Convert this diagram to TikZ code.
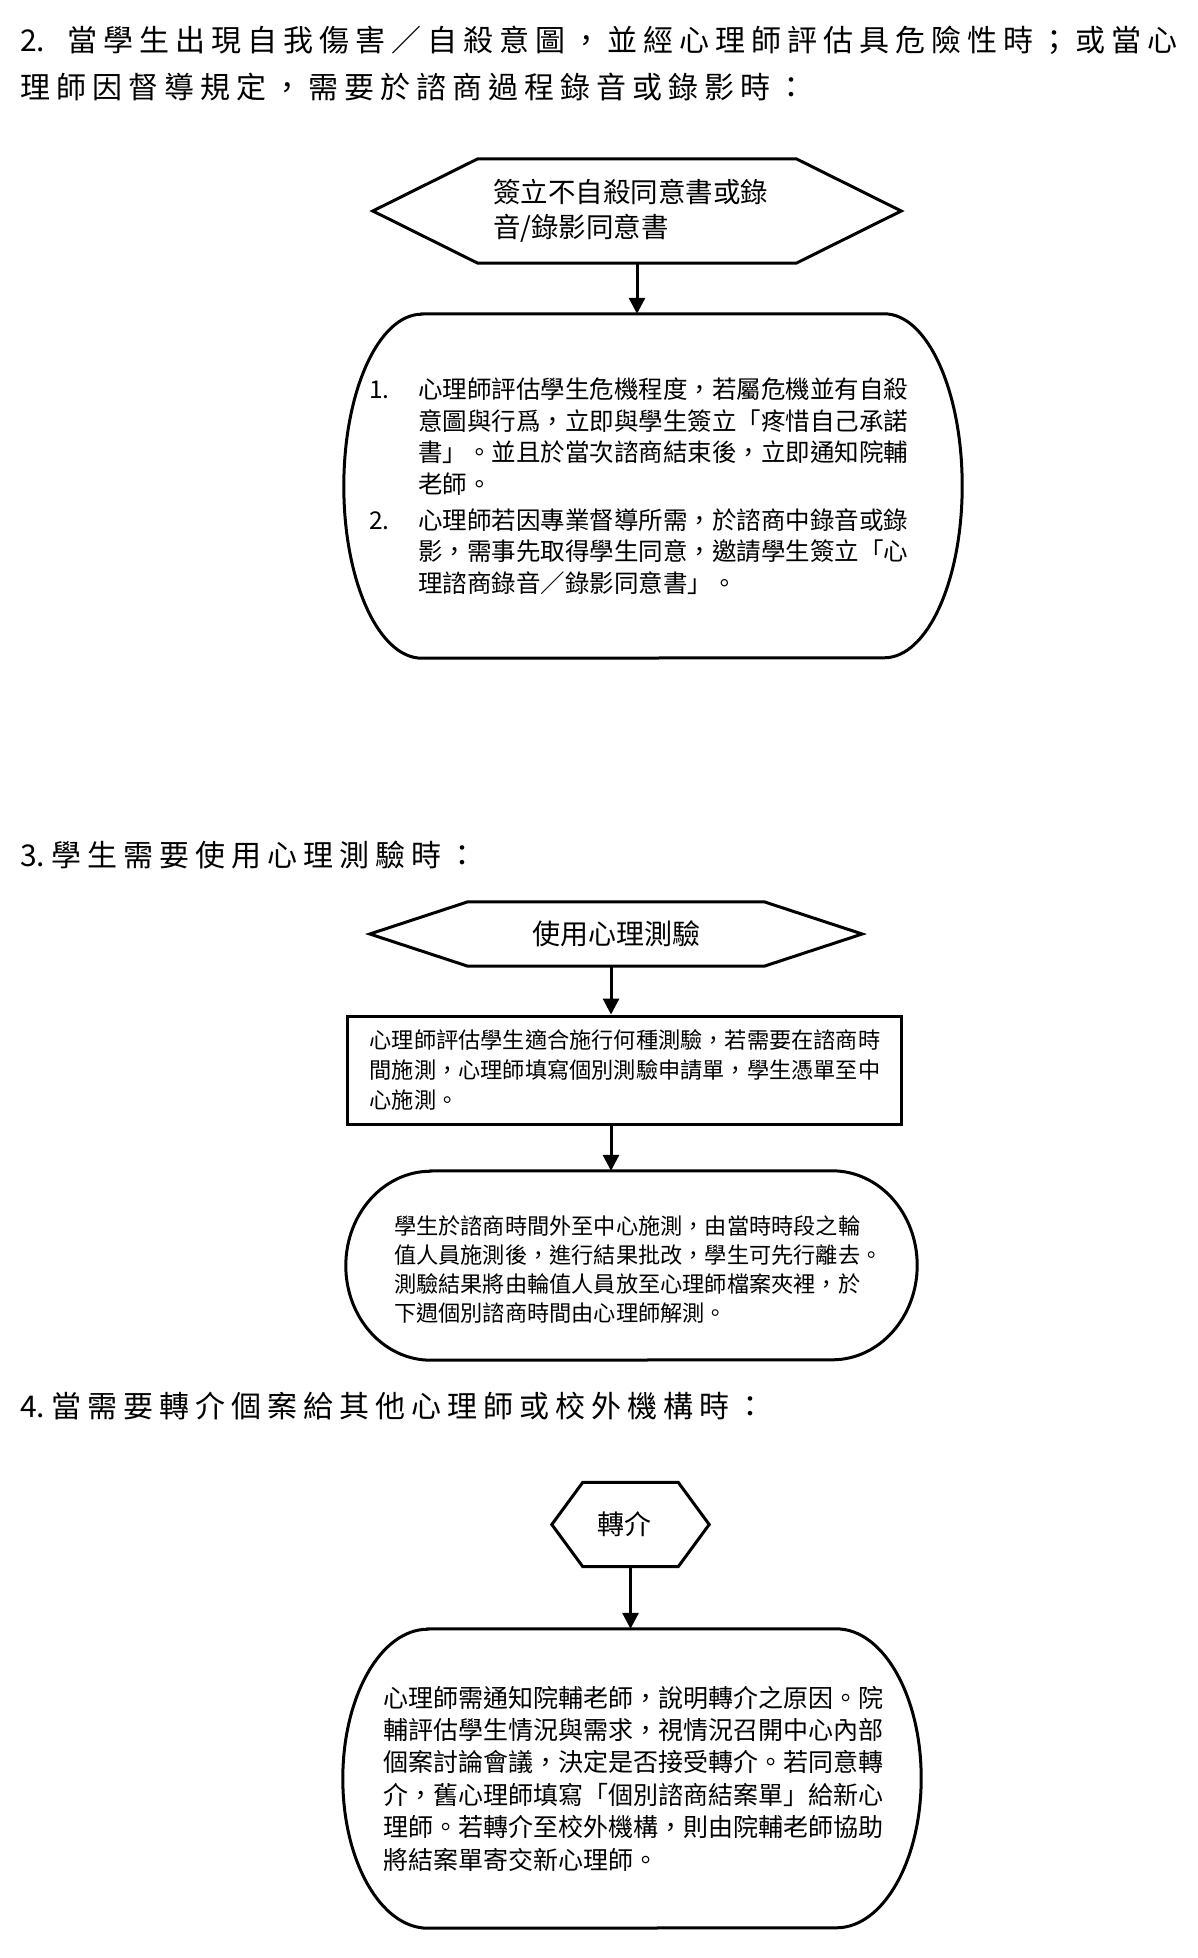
\documentclass[tikz,border=0pt]{standalone}
\usepackage{fontspec}
\setmainfont{Noto Sans CJK TC}
\newfontfamily\headfont[LetterSpace=20]{Noto Sans CJK TC}
\newfontfamily\digfont{Noto Sans CJK TC}
\usetikzlibrary{arrows.meta,calc}
\newcommand\mysz[2]{\fontsize{#1}{#2}\selectfont}
\newcommand\drawhex[2]{%
  \draw[lw] (#1.west) -- ([xshift=#2pt]#1.north west) -- ([xshift=-#2pt]#1.north east)
    -- (#1.east) -- ([xshift=-#2pt]#1.south east) -- ([xshift=#2pt]#1.south west) -- cycle;}
\newcommand\drawterm[3]{%
  \draw[lw] ([xshift=#2pt]#1.north west) -- ([xshift=-#2pt]#1.north east)
    arc[start angle=90,end angle=-90,x radius=#2pt,y radius=#3pt]
    -- ([xshift=#2pt]#1.south west)
    arc[start angle=270,end angle=90,x radius=#2pt,y radius=#3pt] -- cycle;}
\tikzset{
  lw/.style={line width=3pt, line join=miter},
  arr/.style={line width=3pt, -{Triangle[width=16pt,length=16pt]}},
  shp/.style={draw=none, inner sep=0pt},
  txt/.style={inner sep=0pt, align=left, anchor=west},
  head/.style={inner sep=0pt, anchor=west, font=\headfont\mysz{30}{36}},
}
\begin{document}
\begin{tikzpicture}[x=1pt,y=-1pt]
\useasboundingbox (0,0) rectangle (1197,1958);
\fill[white] (0,0) rectangle (1197,1958);

% ---------- Section 2 ----------
\node[head] (h2a) at (20,40) {{\digfont 2.}\hspace{22pt}當學生出現自我傷害／自殺意圖，並經心理師評估具危險性時；或當心};
\node[head] (h2b) at (20,87) {理師因督導規定，需要於諮商過程錄音或錄影時：};

\node[shp, minimum width=528, minimum height=104] (x1) at (637,211) {};
\drawhex{x1}{105}
\node[txt, font=\mysz{27.5}{35}] (x1t) at ([xshift=120pt]x1.west) {簽立不自殺同意書或錄\\音/錄影同意書};

\node[shp, minimum width=618, minimum height=344] (b1) at (653,486) {};
\drawterm{b1}{78}{172}
\node[txt, font=\mysz{24.5}{31.5}] (b1t) at ([xshift=25pt]b1.west) {%
\makebox[49pt][l]{1.}心理師評估學生危機程度，若屬危機並有自殺\\
\hspace*{49pt}意圖與行爲，立即與學生簽立「疼惜自己承諾\\
\hspace*{49pt}書」。並且於當次諮商結束後，立即通知院輔\\
\hspace*{49pt}老師。\\[4.5pt]
\makebox[49pt][l]{2.}心理師若因專業督導所需，於諮商中錄音或錄\\
\hspace*{49pt}影，需事先取得學生同意，邀請學生簽立「心\\
\hspace*{49pt}理諮商錄音／錄影同意書」。};

\draw[arr] (x1.south) -- (x1.south |- b1.north);

% ---------- Section 3 ----------
\node[head] (h3) at (20,855) {{\digfont 3.}\hspace{6pt}學生需要使用心理測驗時：};

\node[shp, minimum width=492, minimum height=64, font=\mysz{28}{34}] (x2) at (616,934) {使用心理測驗};
\drawhex{x2}{98}

\node[shp, draw, lw, minimum width=554, minimum height=108] (r1) at (624,1070) {};
\node[txt, font=\mysz{22.2}{30}] (r1t) at ([xshift=24pt]r1.west) {%
心理師評估學生適合施行何種測驗，若需要在諮商時\\
間施測，心理師填寫個別測驗申請單，學生憑單至中\\
心施測。};

\node[shp, minimum width=571, minimum height=189] (b3) at (631.5,1265.5) {};
\drawterm{b3}{85}{94.5}
\node[txt, font=\mysz{22.2}{28.7}] (b3t) at ([xshift=48pt,yshift=-4pt]b3.west) {%
學生於諮商時間外至中心施測，由當時時段之輪\\
值人員施測後，進行結果批改，學生可先行離去。\\
測驗結果將由輪值人員放至心理師檔案夾裡，於\\
下週個別諮商時間由心理師解測。};

\draw[arr] ([xshift=-5pt]x2.south) -- ([xshift=-5pt]x2.south |- r1.north);
\draw[arr] ([xshift=-5pt]r1.south -| x2.south) -- ([xshift=-5pt]x2.south |- b3.north);

% ---------- Section 4 ----------
\node[head] (h4) at (20,1406) {{\digfont 4.}\hspace{6pt}當需要轉介個案給其他心理師或校外機構時：};

\node[shp, minimum width=157, minimum height=84] (x3) at (630.5,1524.5) {};
\drawhex{x3}{31}
\node[txt, font=\mysz{27}{32}] (x3t) at ([xshift=45pt]x3.west) {轉介};

\node[shp, minimum width=578, minimum height=299] (b4) at (632,1778.5) {};
\drawterm{b4}{85}{149.5}
\node[txt, font=\mysz{25}{32.4}] (b4t) at ([xshift=40pt]b4.west) {%
心理師需通知院輔老師，說明轉介之原因。院\\
輔評估學生情況與需求，視情況召開中心內部\\
個案討論會議，決定是否接受轉介。若同意轉\\
介，舊心理師填寫「個別諮商結案單」給新心\\
理師。若轉介至校外機構，則由院輔老師協助\\
將結案單寄交新心理師。};

\draw[arr] (x3.south) -- (x3.south |- b4.north);
\end{tikzpicture}
\end{document}
